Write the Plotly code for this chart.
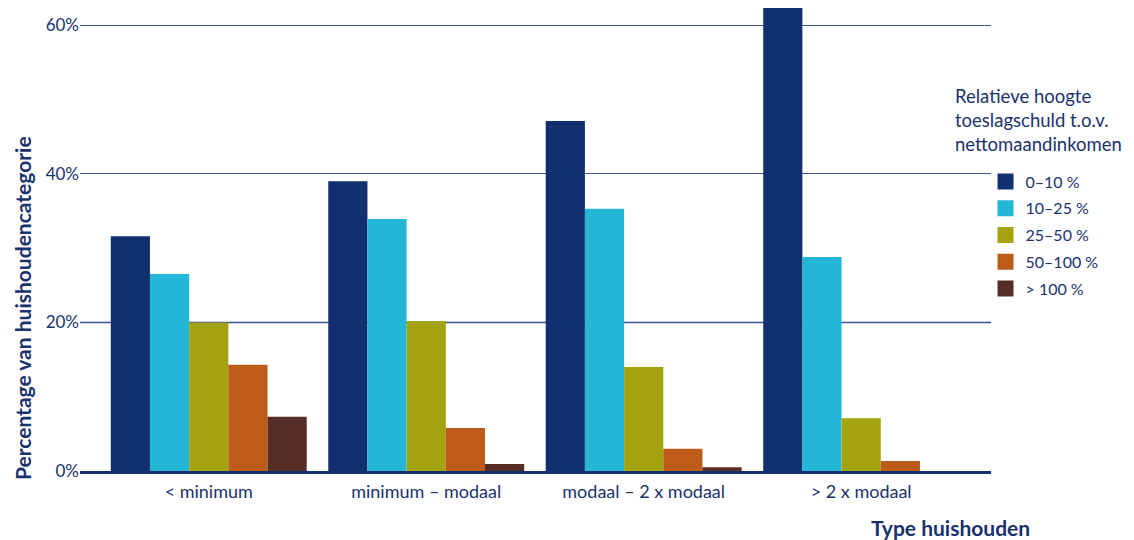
import plotly.graph_objects as go

categories = ["< minimum", "minimum – modaal", "modaal – 2 x modaal", "> 2 x modaal"]
series_names = ["0–10 %", "10–25 %", "25–50 %", "50–100 %", "> 100 %"]
v_0_10 = [31.6, 39.0, 47.1, 62.3]
v_10_25 = [26.5, 33.9, 35.3, 28.8]
v_25_50 = [20.0, 20.2, 14.0, 7.1]
v_50_100 = [14.3, 5.8, 3.0, 1.35]
v_100_plus = [7.3, 0.95, 0.5, 0.0]
y_tickvals = [0, 20, 40, 60]
y_ticktext = ["0%", "20%", "40%", "60%"]

colors = ["#12306f", "#23b6d7", "#a3a20f", "#bd5b1a", "#572e27"]
navy = "#1b326e"
FONT = "Lato"

fig = go.Figure()
all_series = [v_0_10, v_10_25, v_25_50, v_50_100, v_100_plus]
for i, (name, vals) in enumerate(zip(series_names, all_series)):
    fig.add_trace(go.Bar(
        x=categories, y=vals, name=name,
        marker=dict(color=colors[i], line=dict(width=0)),
        showlegend=False,
    ))
# legend entries (square swatches) for the series
for i, name in enumerate(series_names):
    fig.add_trace(go.Scatter(
        x=[None], y=[None], mode="markers", name=name,
        marker=dict(symbol="square", size=16, color=colors[i]),
        legendgroup=f"g{i}", showlegend=True, hoverinfo="skip",
    ))

fig.update_layout(
    width=1126, height=532,
    margin=dict(l=72, r=143, t=0, b=69),
    plot_bgcolor="white", paper_bgcolor="white",
    barmode="group", bargap=0.099, bargroupgap=0,
    font=dict(family=FONT, color=navy, size=17),
    showlegend=True,
    legend=dict(
        x=0.994, xanchor="left", y=0.662, yanchor="top",
        font=dict(family=FONT, size=16, color=navy),
        traceorder="grouped", tracegroupgap=3,
        bgcolor="rgba(0,0,0,0)",
    ),
    xaxis=dict(
        range=[-0.592, 3.597],
        showgrid=False, showline=True, linecolor="#12306f", linewidth=3,
        ticks="", ticklabelstandoff=2,
        tickfont=dict(family=FONT, size=18, color=navy),
    ),
    yaxis=dict(
        range=[0, 62.31],
        tickvals=y_tickvals, ticktext=y_ticktext,
        showgrid=True, gridcolor="#3a5896", gridwidth=1,
        zeroline=False, showline=False, ticks="",
        tickfont=dict(family=FONT, size=17, color=navy),
    ),
    shapes=[
        dict(type="line", xref="paper", yref="y", x0=0, x1=1, y0=20, y1=20,
             line=dict(color="#97a4c8", width=2), layer="between"),
    ],
    annotations=[
        dict(text="<b>Percentage van huishoudencategorie</b>", textangle=-90,
             xref="paper", yref="paper", x=-0.0637, y=0.352,
             xanchor="center", yanchor="middle",
             showarrow=False, font=dict(family=FONT, size=21, color=navy)),
        dict(text="<b>Type huishouden</b>", xref="paper", yref="paper",
             x=0.955, y=-0.121, xanchor="center", yanchor="middle",
             showarrow=False, font=dict(family=FONT, size=21, color=navy)),
        dict(text="Relatieve hoogte<br>toeslagschuld t.o.v.<br>nettomaandinkomen",
             xref="paper", yref="paper", x=0.9585, y=0.758, xanchor="left",
             yanchor="middle", align="left", showarrow=False,
             font=dict(family=FONT, size=18.5, color=navy)),
    ],
)

fig.write_html("out.html")
